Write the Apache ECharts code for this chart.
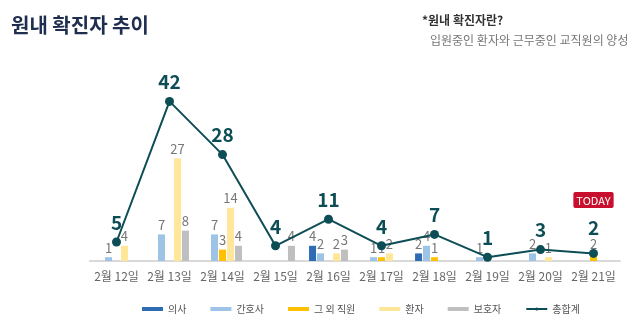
<!DOCTYPE html>
<html><head><meta charset="utf-8">
<script src="https://cdn.jsdelivr.net/npm/echarts@6/dist/echarts.min.js"></script>
<style>html,body{margin:0;padding:0;background:#fff}#c{width:640px;height:335px}</style>
</head><body><div id="c"></div>
<script>
const categories = ['2월 12일','2월 13일','2월 14일','2월 15일','2월 16일','2월 17일','2월 18일','2월 19일','2월 20일','2월 21일'];
const doctors   = [0,0,0,0,4,0,2,0,0,0];
const nurses    = [1,7,7,0,2,1,4,1,2,0];
const staff     = [0,0,3,0,0,1,1,0,0,2];
const patients  = [4,27,14,0,2,2,0,0,1,0];
const guardians = [0,8,4,4,3,0,0,0,0,0];
const totals    = [5,42,28,4,11,4,7,1,3,2];
const seriesNames = ['의사','간호사','그 외 직원','환자','보호자','총합계'];
const colors = ['#2e6db4','#9dc3e6','#ffc000','#ffe699','#bfbfbf','#0d4d55'];
const FONT = "'Noto Sans CJK KR', 'Noto Sans', sans-serif";

const barSets = [doctors, nurses, staff, patients, guardians];
const bars = barSets.map((arr, i) => ({
  name: seriesNames[i], type: 'bar', data: arr.map(v => v === 0 ? null : v),
  barWidth: 7, barGap: '14%', itemStyle: {color: colors[i]},
  label: {show: true, position: 'top', distance: 3, color: '#777', fontSize: 13, fontFamily: FONT}
}));
const last = totals.length - 1;
const line = {
  name: seriesNames[5], type: 'line', z: 10,
  data: totals.map((v, i) => i === last ? {value: v, label: {distance: 10}} : v),
  symbol: 'circle', symbolSize: 9, lineStyle: {color: colors[5], width: 2}, itemStyle: {color: colors[5]},
  label: {show: true, position: 'top', distance: 4, fontFamily: FONT,
    formatter: p => p.dataIndex === last ? '{t|TODAY}\n{s| }\n{v|' + p.value + '}' : '{v|' + p.value + '}',
    rich: {
      v: {fontSize: 19, fontWeight: 'bold', color: '#0d4d55', fontFamily: FONT, lineHeight: 22},
      s: {lineHeight: 9, fontSize: 6},
      t: {fontSize: 11, color: '#fff', backgroundColor: '#c8102e', padding: [3, 3, 2, 3], borderRadius: 2, fontFamily: FONT, lineHeight: 16}
    }}
};
const chart = echarts.init(document.getElementById('c'));
chart.setOption({
  animation: false,
  title: [
    {text: '원내 확진자 추이', left: 6, top: 10, textStyle: {fontSize: 20, fontWeight: 'bold', color: '#1f2d4f', fontFamily: FONT}},
    {text: '*원내 확진자란?', left: 417, top: 9, textStyle: {fontSize: 12, fontWeight: 'bold', color: '#333', fontFamily: FONT}},
    {text: '입원중인 환자와 근무중인 교직원의 양성', left: 425, top: 29, textStyle: {fontSize: 12, fontWeight: 'normal', color: '#777', fontFamily: FONT}}
  ],
  legend: {
    bottom: 16, left: 137, itemWidth: 21, itemHeight: 4, itemGap: 24,
    textStyle: {fontSize: 10, color: '#555', fontFamily: FONT},
    data: seriesNames.map((n, i) => i < 5 ? {name: n, icon: 'rect'} : {name: n})
  },
  grid: {left: 90, right: 20, top: 71, bottom: 74},
  xAxis: {type: 'category', data: categories,
    axisLine: {lineStyle: {color: '#d9d9d9', width: 2}}, axisTick: {show: false},
    axisLabel: {color: '#666', fontSize: 12, margin: 9, interval: 0, fontFamily: FONT}},
  yAxis: {type: 'value', min: 0, max: 50, show: false},
  series: [...bars, line]
});
</script></body></html>
